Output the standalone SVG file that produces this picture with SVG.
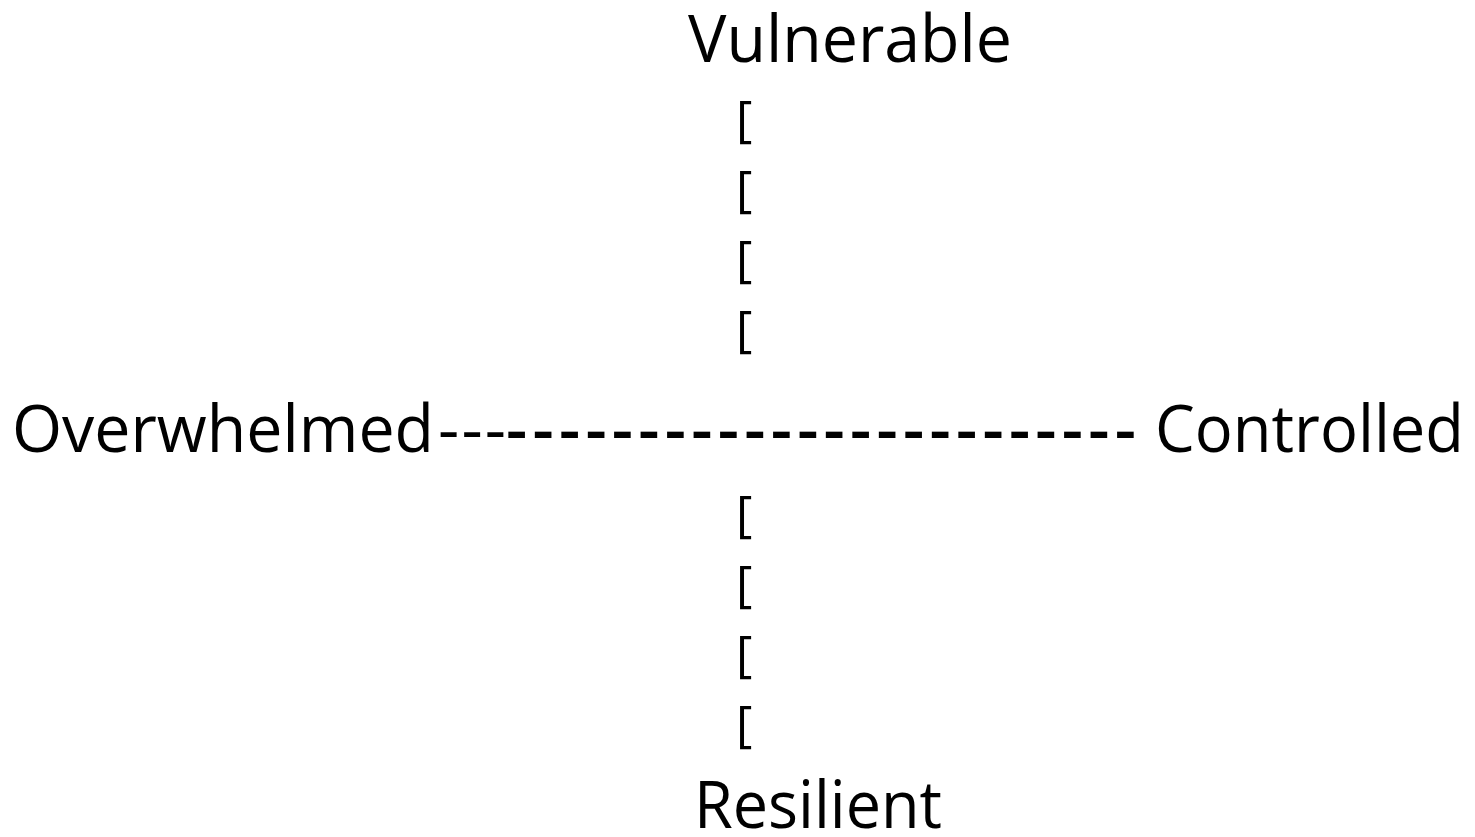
<svg xmlns="http://www.w3.org/2000/svg" width="1475" height="837" viewBox="0 0 1475 837">
<style>
text{font-family:"Open Sans","Noto Sans","Liberation Sans",sans-serif;fill:#000}
.lbl{font-size:66px}
.br{font-size:50px}
.dash{font-size:66px}
.bold{font-weight:600}
</style>
<rect width="1475" height="837" fill="#fff"/>
<g id="node-vulnerable"><text class="lbl" x="688" y="62" textLength="324" lengthAdjust="spacingAndGlyphs">Vulnerable</text></g>
<g id="node-overwhelmed"><text class="lbl" x="12" y="452" textLength="422" lengthAdjust="spacingAndGlyphs">Overwhelmed</text></g>
<g id="node-controlled"><text class="lbl" x="1155" y="452" textLength="309" lengthAdjust="spacingAndGlyphs">Controlled</text></g>
<g id="node-resilient"><text class="lbl" x="694" y="828" textLength="248" lengthAdjust="spacingAndGlyphs">Resilient</text></g>
<g id="connectors">
<text class="dash" x="438" y="452" textLength="68" lengthAdjust="spacing">---</text>
<text class="dash bold" x="506" y="452" textLength="630" lengthAdjust="spacing">------------------------</text>
<text class="br" x="736" y="136">[</text>
<text class="br" x="736" y="206">[</text>
<text class="br" x="736" y="276">[</text>
<text class="br" x="736" y="346">[</text>
<text class="br" x="736" y="531">[</text>
<text class="br" x="736" y="601">[</text>
<text class="br" x="736" y="671">[</text>
<text class="br" x="736" y="741">[</text>
</g>
</svg>
